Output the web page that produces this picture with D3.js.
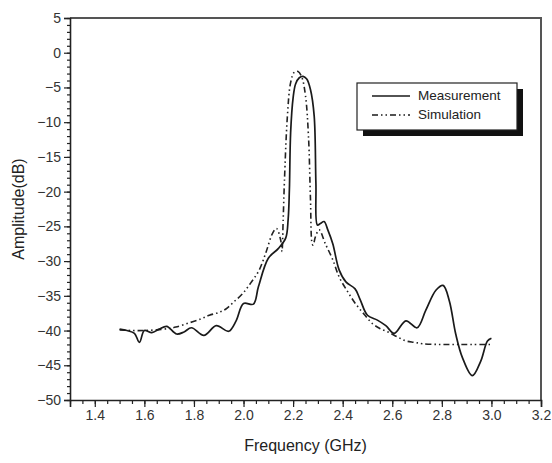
<!DOCTYPE html>
<html>
<head>
<meta charset="utf-8">
<script src="https://cdn.jsdelivr.net/npm/d3@7"></script>
<style>
  body { margin: 0; background: #fff; }
  text { font-family: "Liberation Sans", Arial, sans-serif; fill: #222; }
</style>
</head>
<body>
<script>
// measured S21 (GHz, dB)
let measFreq = [1.50, 1.53, 1.56, 1.58, 1.60, 1.63, 1.66, 1.69, 1.73, 1.76, 1.79, 1.84, 1.89, 1.94, 1.97,
  2.00, 2.04, 2.06, 2.10, 2.14, 2.17, 2.18, 2.185, 2.19, 2.20, 2.21, 2.225, 2.24, 2.255, 2.27, 2.285,
  2.292, 2.298, 2.31, 2.325, 2.34, 2.36, 2.386, 2.413, 2.45, 2.47, 2.50, 2.54, 2.574, 2.608, 2.655,
  2.70, 2.735, 2.776, 2.805, 2.83, 2.856, 2.883, 2.923, 2.957, 2.984, 3.00];
let measAmp = [-39.8, -40.0, -40.4, -41.7, -40.0, -40.3, -39.8, -39.4, -40.5, -40.2, -39.6, -40.7, -39.3, -40.1, -38.6,
  -36.1, -36.2, -33.7, -29.6, -28.2, -26.7, -24.0, -19.7, -11.5, -6.5, -4.5, -3.6, -3.4, -3.8, -5.3, -9.1,
  -18.8, -24.8, -24.6, -24.3, -25.5, -27.5, -31.3, -33.0, -34.0, -35.5, -37.8, -38.5, -39.3, -40.4, -38.6,
  -39.6, -37.1, -34.2, -33.5, -35.7, -40.5, -43.9, -46.5, -44.4, -41.5, -41.1];

// simulated S21
let simFreq = [1.50, 1.55, 1.60, 1.65, 1.70, 1.727, 1.78, 1.83, 1.862, 1.90, 1.929, 1.96, 1.996, 2.03, 2.063,
  2.09, 2.117, 2.133, 2.15, 2.155, 2.16, 2.165, 2.177, 2.19, 2.205, 2.22, 2.235, 2.25, 2.262, 2.27, 2.277,
  2.281, 2.29, 2.305, 2.33, 2.36, 2.386, 2.42, 2.453, 2.49, 2.52, 2.55, 2.588, 2.62, 2.655, 2.69, 2.722,
  2.79, 2.856, 2.92, 3.00];
let simAmp = [-39.9, -40.0, -40.0, -39.9, -39.7, -39.5, -38.9, -38.3, -37.8, -37.4, -36.9, -35.9, -34.7, -33.1, -31.3,
  -28.8, -26.0, -25.3, -27.0, -28.6, -24.0, -18.5, -9.1, -4.3, -2.8, -2.7, -3.5, -6.2, -12.0, -21.0, -27.5,
  -27.7, -26.5, -25.5, -27.5, -29.8, -32.3, -34.4, -36.2, -37.8, -39.0, -39.7, -40.3, -40.9, -41.5, -41.7, -41.9,
  -42.0, -42.0, -42.0, -42.0];

let xTicks = [1.4, 1.6, 1.8, 2.0, 2.2, 2.4, 2.6, 2.8, 3.0, 3.2];
let yTicks = [5, 0, -5, -10, -15, -20, -25, -30, -35, -40, -45, -50];
let seriesNames = ["Measurement", "Simulation"];

let width = 552, height = 463;
let margins = { left: 70, top: 18, right: 11, bottom: 63 };
let plotW = width - margins.left - margins.right;
let plotH = height - margins.top - margins.bottom;

let svg = d3.select("body").append("svg")
  .attr("width", width)
  .attr("height", height);

let xScale = d3.scaleLinear().domain([1.3, 3.2]).range([0, plotW]);
let yScale = d3.scaleLinear().domain([-50, 5]).range([plotH, 0]);

let container = svg.append("g")
  .attr("transform", `translate(${margins.left}, ${margins.top})`);

// frame on top and right
container.append("path")
  .attr("d", `M0,0H${plotW}V${plotH}`)
  .attr("fill", "none")
  .attr("stroke", "#555")
  .attr("stroke-width", 2);

// x axis with minor ticks
let xMinor = d3.range(1.3, 3.2001, 0.05);
container.append("g")
  .attr("transform", `translate(0, ${plotH})`)
  .call(d3.axisBottom(xScale).tickValues(xMinor).tickSize(4).tickFormat(""))
  .call(g => g.select(".domain").remove())
  .selectAll("line").attr("stroke", "#222").attr("stroke-width", 1.2);
let xAxisG = container.append("g")
  .attr("transform", `translate(0, ${plotH})`)
  .call(d3.axisBottom(xScale).tickValues(xTicks).tickSize(7).tickPadding(3).tickFormat(d3.format(".1f")));
xAxisG.select(".domain").attr("stroke", "#222").attr("stroke-width", 1.6);
xAxisG.selectAll("line").attr("stroke", "#222").attr("stroke-width", 1.2);
xAxisG.selectAll("text").attr("font-size", 14).style("fill", "#333");

// y axis with minor ticks
let yMinor = d3.range(-50, 5.001, 1);
container.append("g")
  .call(d3.axisLeft(yScale).tickValues(yMinor).tickSize(3).tickFormat(""))
  .call(g => g.select(".domain").remove())
  .selectAll("line").attr("stroke", "#222").attr("stroke-width", 1.2);
let yAxisG = container.append("g")
  .call(d3.axisLeft(yScale).tickValues(yTicks).tickSize(6).tickPadding(3).tickFormat(d3.format("d")));
yAxisG.select(".domain").attr("stroke", "#222").attr("stroke-width", 1.6);
yAxisG.selectAll("line").attr("stroke", "#222").attr("stroke-width", 1.2);
yAxisG.selectAll("text").attr("font-size", 14).style("fill", "#333");

// the curves
let lineGen = d3.line()
  .x(d => xScale(d[0]))
  .y(d => yScale(d[1]))
  .curve(d3.curveCatmullRom.alpha(0.5));

container.append("path")
  .datum(simFreq.map((f, i) => [f, simAmp[i]]))
  .attr("d", lineGen)
  .attr("fill", "none")
  .attr("stroke", "#222")
  .attr("stroke-width", 1.6)
  .attr("stroke-dasharray", "6,3,1.5,3,1.5,3");

container.append("path")
  .datum(measFreq.map((f, i) => [f, measAmp[i]]))
  .attr("d", lineGen)
  .attr("fill", "none")
  .attr("stroke", "#1a1a1a")
  .attr("stroke-width", 1.7);

// axis labels
svg.append("text")
  .attr("x", margins.left + plotW / 2)
  .attr("y", 447)
  .attr("text-anchor", "middle")
  .attr("dominant-baseline", "middle")
  .attr("font-size", 16)
  .text("Frequency (GHz)");

svg.append("text")
  .attr("transform", `translate(20, ${margins.top + plotH / 2}) rotate(-90)`)
  .attr("text-anchor", "middle")
  .attr("dominant-baseline", "middle")
  .attr("font-size", 16)
  .text("Amplitude(dB)");

// legend with shadow box
let legend = svg.append("g").attr("transform", "translate(357, 83)");
legend.append("rect")
  .attr("x", 6).attr("y", 6).attr("width", 160).attr("height", 47)
  .attr("fill", "#111");
legend.append("rect")
  .attr("width", 160).attr("height", 47)
  .attr("fill", "#fff").attr("stroke", "#222").attr("stroke-width", 1.2);
let dashes = [null, "6,3,1.5,3,1.5,3"];
let items = legend.selectAll(".item").data(seriesNames).join("g")
  .attr("transform", (d, i) => `translate(0, ${13 + i * 19})`);
items.append("line")
  .attr("x1", 15).attr("x2", 53)
  .attr("stroke", "#1a1a1a").attr("stroke-width", 1.6)
  .attr("stroke-dasharray", (d, i) => dashes[i]);
items.append("text")
  .attr("x", 61)
  .attr("dominant-baseline", "middle")
  .attr("font-size", 13.5)
  .text(d => d);
</script>
</body>
</html>
